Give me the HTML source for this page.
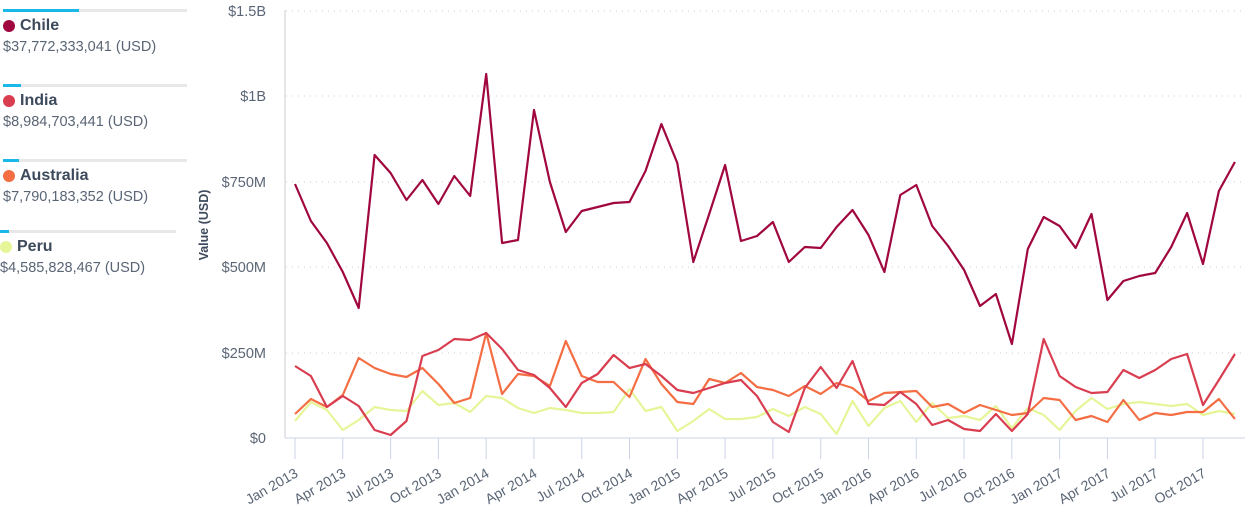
<!DOCTYPE html>
<html><head><meta charset="utf-8"><style>
body{margin:0;width:1254px;height:522px;background:#fff;font-family:"Liberation Sans",sans-serif;overflow:hidden;position:relative}
.lg{position:absolute;left:3px;width:184px}
.bar{height:3px;background:#e8e8ea;position:relative}
.bar i{position:absolute;left:0;top:0;height:3px;background:#1ab8e8}
.nm{font-weight:bold;color:#3d4a5c;font-size:16px;margin-top:5px;display:flex;align-items:center}
.nm b{width:12px;height:12px;border-radius:50%;display:inline-block;margin-right:5px}
.vl{color:#5a6575;font-size:14.5px;margin-top:4px;white-space:nowrap}
</style></head><body>
<div class="lg" style="top:9px"><div class="bar"><i style="width:76px"></i></div><div class="nm"><b style="background:#a0073f"></b>Chile</div><div class="vl">$37,772,333,041 (USD)</div></div>
<div class="lg" style="top:84px"><div class="bar"><i style="width:18px"></i></div><div class="nm"><b style="background:#d93d50"></b>India</div><div class="vl">$8,984,703,441 (USD)</div></div>
<div class="lg" style="top:159px"><div class="bar"><i style="width:16px"></i></div><div class="nm"><b style="background:#f46d43"></b>Australia</div><div class="vl">$7,790,183,352 (USD)</div></div>
<div class="lg" style="top:230px;left:0;width:176px"><div class="bar"><i style="width:9px"></i></div><div class="nm"><b style="background:#e6f598"></b>Peru</div><div class="vl">$4,585,828,467 (USD)</div></div>
<svg width="1254" height="522" style="position:absolute;left:0;top:0" font-family="Liberation Sans, sans-serif">
<g stroke="#ccc" stroke-dasharray="1,5">
<line x1="286" x2="1245" y1="11" y2="11"/><line x1="286" x2="1245" y1="96" y2="96"/><line x1="286" x2="1245" y1="182" y2="182"/><line x1="286" x2="1245" y1="267" y2="267"/><line x1="286" x2="1245" y1="353" y2="353"/></g>
<line x1="285" x2="285" y1="10" y2="438" stroke="#ccc"/>
<line x1="285" x2="1245" y1="438" y2="438" stroke="#ccd3e6"/>
<g fill="#5a6575" font-size="14.5" text-anchor="end">
<text x="266" y="16">$1.5B</text><text x="266" y="101">$1B</text><text x="266" y="187">$750M</text><text x="266" y="272">$500M</text><text x="266" y="358">$250M</text><text x="266" y="443">$0</text></g>
<text transform="translate(208,225) rotate(-90)" text-anchor="middle" font-size="12.5" font-weight="bold" fill="#3d4a5c">Value (USD)</text>
<g id="xt"></g>
<g fill="none" stroke-width="2.2" stroke-linejoin="round">
<polyline id="peru" stroke="#e6f598"/><polyline id="aus" stroke="#f46d43"/><polyline id="ind" stroke="#d93d50"/><polyline id="chile" stroke="#a0073f"/>
</g>
</svg>
<script>
var C=[184,221,243,272,308,155,173,200,180,204,176,196,74,243,240,110,182,232,211,207,203,202,171,124,163,262,214,165,241,236,222,262,247,248,227,210,235,272,195,185,226,246,270,306,294,344,249,217,226,248,214,300,281,276,273,247,213,264,191,162];
var I=[366,376,407,396,406,430,435,421,356,350,339,340,333,349,370,375,388,407,383,374,355,368,364,376,390,393,388,383,380,396,422,432,388,367,388,361,404,405,392,404,425,420,429,431,414,431,414,339,376,387,393,392,370,378,370,359,354,405,380,354];
var A=[414,399,407,395,358,368,374,377,368,384,403,398,333,394,374,376,386,341,376,382,382,397,359,384,402,404,379,383,373,387,390,396,386,394,383,388,401,393,392,391,407,404,413,405,410,415,413,398,400,420,416,422,400,420,413,415,412,412,399,419];
var P=[421,402,410,430,420,407,410,411,391,405,403,412,396,398,408,413,408,410,413,413,412,389,411,407,431,421,409,419,419,417,409,416,407,414,434,401,426,408,401,422,403,418,416,420,406,428,408,415,430,411,398,409,404,402,404,406,404,415,411,414];
function pts(a){return a.map(function(y,i){return (295+15.93*i).toFixed(1)+","+y}).join(" ")}
document.getElementById("chile").setAttribute("points",pts(C));
document.getElementById("ind").setAttribute("points",pts(I));
document.getElementById("aus").setAttribute("points",pts(A));
document.getElementById("peru").setAttribute("points",pts(P));
var m=["Jan","Apr","Jul","Oct"],s="";
for(var k=0;k<20;k++){var x=295+15.93*3*k;var lab=m[k%4]+" "+(2013+Math.floor(k/4));
s+='<line x1="'+x+'" x2="'+x+'" y1="438" y2="459" stroke="#ccd3e6"/>';
s+='<text transform="translate('+(x+4)+',476) rotate(-30)" text-anchor="end" font-size="14" fill="#5a6575">'+lab+'</text>';}
document.getElementById("xt").innerHTML=s;
</script>
</body></html>
